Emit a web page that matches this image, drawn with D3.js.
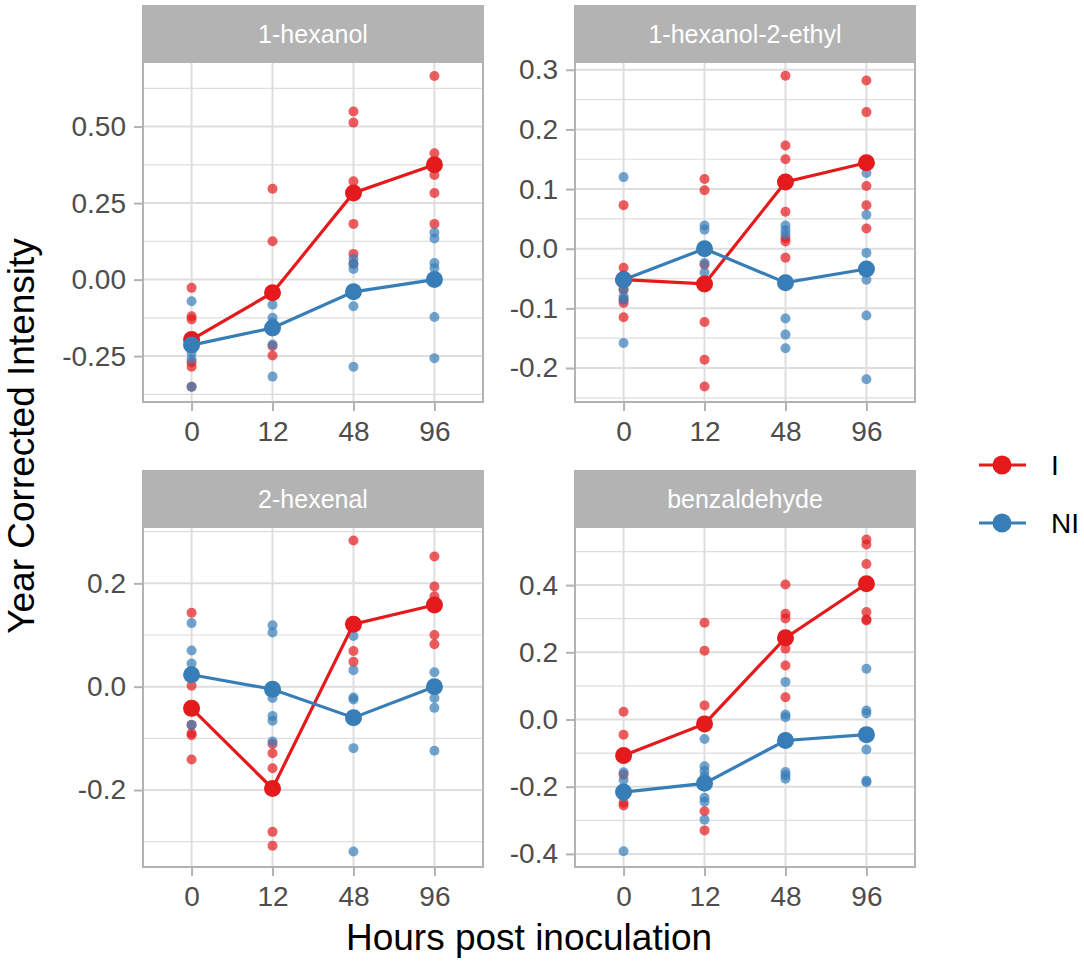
<!DOCTYPE html>
<html>
<head>
<meta charset="utf-8">
<script src="https://cdn.jsdelivr.net/npm/d3@7"></script>
<style>
  body { margin: 0; background: #fff; }
  svg { display: block; font-family: "Liberation Sans", Arial, Helvetica, sans-serif; }
</style>
</head>
<body>
<svg width="1084" height="966"></svg>
<script>
// ===== DATA =====
var times = ["0", "12", "48", "96"];
var compounds = ["1-hexanol", "1-hexanol-2-ethyl", "2-hexenal", "benzaldehyde"];
var groups = ["I", "NI"];

// replicate values, one array per time point
var hexanolI = [
  [-0.027, -0.12, -0.13, -0.19, -0.27, -0.285, -0.35],
  [0.297, 0.125, -0.05, -0.217, -0.248],
  [0.549, 0.513, 0.321, 0.283, 0.182, 0.084, 0.052],
  [0.665, 0.413, 0.375, 0.342, 0.283, 0.182]
];
var hexanolNI = [
  [-0.071, -0.2, -0.22, -0.24, -0.26, -0.35],
  [-0.082, -0.125, -0.14, -0.158, -0.212, -0.317],
  [0.068, 0.052, 0.035, -0.04, -0.087, -0.285],
  [0.154, 0.134, 0.054, 0.038, 0.0, -0.122, -0.257]
];
var ethylI = [
  [0.073, -0.032, -0.045, -0.069, -0.085, -0.091, -0.115],
  [0.117, 0.098, -0.027, -0.059, -0.123, -0.186, -0.231],
  [0.290, 0.173, 0.150, 0.112, 0.062, 0.018, 0.012, -0.015],
  [0.282, 0.229, 0.144, 0.105, 0.073, 0.034]
];
var ethylNI = [
  [0.12, -0.05, -0.068, -0.08, -0.086, -0.158],
  [0.039, 0.032, 0.0, -0.024, -0.04],
  [0.039, 0.031, 0.024, -0.057, -0.117, -0.144, -0.167],
  [0.127, 0.057, -0.007, -0.034, -0.052, -0.112, -0.219]
];
var hexenalI = [
  [0.143, 0.002, -0.074, -0.09, -0.094, -0.141],
  [-0.111, -0.129, -0.158, -0.197, -0.281, -0.308],
  [0.283, 0.121, 0.069, 0.048],
  [0.252, 0.194, 0.175, 0.158, 0.100, 0.082]
];
var hexenalNI = [
  [0.123, 0.07, 0.045, 0.03, 0.023, -0.074],
  [0.119, 0.105, -0.005, -0.022, -0.057, -0.066, -0.106],
  [0.098, 0.032, -0.021, -0.025, -0.060, -0.119, -0.319],
  [0.028, 0.0, -0.022, -0.041, -0.124]
];
var benzI = [
  [0.023, -0.045, -0.107, -0.164, -0.248, -0.256],
  [0.288, 0.205, 0.042, -0.013, -0.273, -0.330],
  [0.402, 0.315, 0.301, 0.243, 0.211, 0.161, 0.066],
  [0.536, 0.521, 0.463, 0.404, 0.320, 0.298, 0.295]
];
var benzNI = [
  [-0.157, -0.18, -0.216, -0.23, -0.392],
  [-0.058, -0.139, -0.153, -0.168, -0.233, -0.245, -0.298],
  [0.112, 0.015, 0.007, -0.0625, -0.156, -0.166, -0.176],
  [0.151, 0.027, 0.018, -0.045, -0.089, -0.182, -0.187]
];

// group means per time point
var hexanolMeanI = [-0.196, -0.043, 0.283, 0.375];
var hexanolMeanNI = [-0.214, -0.158, -0.040, 0.0];
var ethylMeanI = [-0.052, -0.059, 0.112, 0.144];
var ethylMeanNI = [-0.052, 0.0, -0.057, -0.034];
var hexenalMeanI = [-0.042, -0.197, 0.121, 0.158];
var hexenalMeanNI = [0.023, -0.005, -0.060, 0.0];
var benzMeanI = [-0.107, -0.013, 0.243, 0.404];
var benzMeanNI = [-0.216, -0.190, -0.0625, -0.045];

// y axis limits and tick values per panel
var hexanolLimits = [-0.400, 0.711], hexanolTicks = [-0.25, 0, 0.25, 0.5];
var ethylLimits = [-0.257, 0.313], ethylTicks = [-0.2, -0.1, 0, 0.1, 0.2, 0.3];
var hexenalLimits = [-0.349, 0.309], hexenalTicks = [-0.2, 0, 0.2];
var benzLimits = [-0.439, 0.573], benzTicks = [-0.4, -0.2, 0, 0.2, 0.4];

var panels = [
  {name: compounds[0], reps: [hexanolI, hexanolNI], means: [hexanolMeanI, hexanolMeanNI], lim: hexanolLimits, ticks: hexanolTicks, fmt: ".2f"},
  {name: compounds[1], reps: [ethylI, ethylNI], means: [ethylMeanI, ethylMeanNI], lim: ethylLimits, ticks: ethylTicks, fmt: ".1f"},
  {name: compounds[2], reps: [hexenalI, hexenalNI], means: [hexenalMeanI, hexenalMeanNI], lim: hexenalLimits, ticks: hexenalTicks, fmt: ".1f"},
  {name: compounds[3], reps: [benzI, benzNI], means: [benzMeanI, benzMeanNI], lim: benzLimits, ticks: benzTicks, fmt: ".1f"}
];

// ===== LAYOUT =====
var svg = d3.select("svg");
var colour = d3.scaleOrdinal().domain(groups).range(["#E41A1C", "#377EB8"]);
var colLeft = [143, 575], rowTop = [5, 470];
var stripH = 57, panelW = 340, panelH = 340;
var grid = "#DEDEDE", frame = "#B3B3B3";

panels.forEach(function(p, i) {
  var x0 = colLeft[i % 2], y0 = rowTop[Math.floor(i / 2)] + stripH;

  var x = d3.scalePoint().domain(times).range([x0, x0 + panelW]).padding(0.6);
  var y = d3.scaleLinear().domain(p.lim).range([y0 + panelH, y0]);

  var g = svg.append("g");

  // minor grid
  var step = p.ticks[1] - p.ticks[0], minors = [];
  for (var v = p.ticks[0] - step / 2; v <= p.lim[1]; v += step) if (v >= p.lim[0]) minors.push(v);
  g.selectAll(".minor").data(minors).enter().append("line")
      .attr("x1", x0).attr("x2", x0 + panelW)
      .attr("y1", function(d) { return y(d); }).attr("y2", function(d) { return y(d); })
      .attr("stroke", grid).attr("stroke-width", 1.2);

  // major grid
  g.selectAll(".hmajor").data(p.ticks).enter().append("line")
      .attr("x1", x0).attr("x2", x0 + panelW)
      .attr("y1", function(d) { return y(d); }).attr("y2", function(d) { return y(d); })
      .attr("stroke", grid).attr("stroke-width", 2);
  g.selectAll(".vmajor").data(times).enter().append("line")
      .attr("x1", function(d) { return x(d); }).attr("x2", function(d) { return x(d); })
      .attr("y1", y0).attr("y2", y0 + panelH)
      .attr("stroke", grid).attr("stroke-width", 2);

  // replicate points
  groups.forEach(function(grp, k) {
    var pts = [];
    p.reps[k].forEach(function(vals, t) {
      vals.forEach(function(val) { pts.push({t: times[t], v: val}); });
    });
    g.append("g").selectAll("circle").data(pts).enter().append("circle")
        .attr("cx", function(d) { return x(d.t); })
        .attr("cy", function(d) { return y(d.v); })
        .attr("r", 5)
        .attr("fill", colour(grp))
        .attr("fill-opacity", 0.7);
  });

  // mean lines
  var line = d3.line().x(function(d, t) { return x(times[t]); }).y(function(d) { return y(d); });
  groups.forEach(function(grp, k) {
    g.append("path").datum(p.means[k])
        .attr("d", line)
        .attr("fill", "none")
        .attr("stroke", colour(grp))
        .attr("stroke-width", 3.2);
  });

  // mean points
  groups.forEach(function(grp, k) {
    g.append("g").selectAll("circle").data(p.means[k]).enter().append("circle")
        .attr("cx", function(d, t) { return x(times[t]); })
        .attr("cy", function(d) { return y(d); })
        .attr("r", 8.5)
        .attr("fill", colour(grp));
  });

  // panel border
  g.append("rect")
      .attr("x", x0).attr("y", y0).attr("width", panelW).attr("height", panelH)
      .attr("fill", "none").attr("stroke", frame).attr("stroke-width", 2);

  // strip
  g.append("rect")
      .attr("x", x0 - 1).attr("y", y0 - stripH).attr("width", panelW + 2).attr("height", stripH)
      .attr("fill", "#B3B3B3");
  g.append("text")
      .attr("x", x0 + panelW / 2).attr("y", y0 - stripH / 2 + 9)
      .attr("text-anchor", "middle")
      .attr("fill", "#fff")
      .attr("font-size", 25)
      .text(p.name);

  // axes
  var fmt = d3.format(p.fmt);
  var yAxis = g.append("g")
      .attr("transform", "translate(" + x0 + ",0)")
      .call(d3.axisLeft(y).tickValues(p.ticks).tickSize(9).tickPadding(8)
        .tickFormat(function(d) { return fmt(d).replace("\u2212", "-"); }));
  var xAxis = g.append("g")
      .attr("transform", "translate(0," + (y0 + panelH) + ")")
      .call(d3.axisBottom(x).tickSize(9).tickPadding(10));
  [xAxis, yAxis].forEach(function(a) {
    a.select(".domain").remove();
    a.selectAll(".tick line").attr("stroke", frame).attr("stroke-width", 2);
    a.selectAll(".tick text").attr("fill", "#4D4D4D").attr("font-size", 28)
        .attr("font-family", "Liberation Sans, Arial, sans-serif");
  });
});

// axis titles
svg.append("text")
    .attr("x", 529).attr("y", 950)
    .attr("text-anchor", "middle")
    .attr("font-size", 37)
    .text("Hours post inoculation");
svg.append("text")
    .attr("transform", "translate(34,436) rotate(-90)")
    .attr("text-anchor", "middle")
    .attr("font-size", 37)
    .text("Year Corrected Intensity");

// legend
var legend = svg.append("g").selectAll("g").data(groups).enter().append("g")
    .attr("transform", function(d, i) { return "translate(0," + (465 + i * 58) + ")"; });
legend.append("line")
    .attr("x1", 979).attr("x2", 1026)
    .attr("stroke", function(d) { return colour(d); })
    .attr("stroke-width", 3.2);
legend.append("circle")
    .attr("cx", 1002).attr("r", 9.5)
    .attr("fill", function(d) { return colour(d); });
legend.append("text")
    .attr("x", 1051).attr("y", 10)
    .attr("font-size", 28)
    .text(function(d) { return d; });
</script>
</body>
</html>
